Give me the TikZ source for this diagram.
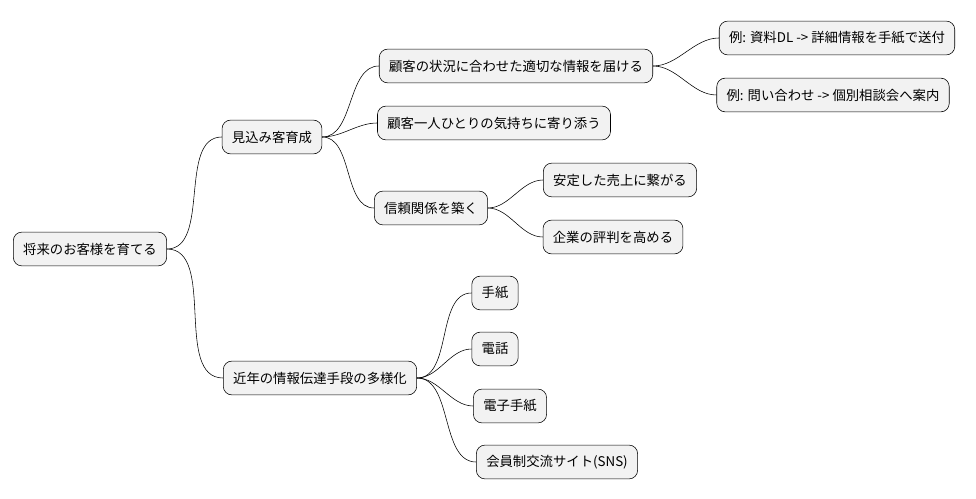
\documentclass[tikz,border=0pt]{standalone}
\usepackage{fontspec}
\setmainfont{Noto Sans CJK JP}
\usetikzlibrary{positioning}

\begin{document}
\begin{tikzpicture}[x=0.025cm, y=-0.025cm,
    topic/.style={draw, rounded corners=6pt, fill=gray!10, minimum height=24pt, inner xsep=7pt, font=\fontsize{9.5}{11}\selectfont},
    link/.style={out=0, in=180, looseness=0.9}
]
    \useasboundingbox (0,0) rectangle (976,499);

    % Root
    \node[topic] (root) at (90,249) {将来のお客様を育てる};

    % First level
    \node[topic] (nurture) at (272,137) {見込み客育成};
    \node[topic] (media) at (320,378) {近年の情報伝達手段の多様化};

    % Nurture branch
    \node[topic] (info) at (516,66) {顧客の状況に合わせた適切な情報を届ける};
    \node[topic] (ex1) at (837,38) {例: 資料DL -> 詳細情報を手紙で送付};
    \node[topic] (ex2) at (833,95) {例: 問い合わせ -> 個別相談会へ案内};
    \node[topic] (care) at (494,123) {顧客一人ひとりの気持ちに寄り添う};
    \node[topic] (trust) at (431,208) {信頼関係を築く};
    \node[topic] (sales) at (620,180) {安定した売上に繋がる};
    \node[topic] (fame) at (613,237) {企業の評判を高める};

    % Media branch
    \node[topic] (letter) at (495,293) {手紙};
    \node[topic] (phone) at (495,349) {電話};
    \node[topic] (mail) at (510,406) {電子手紙};
    \node[topic] (sns) at (557,462) {会員制交流サイト(SNS)};

    % Connections
    \draw (root.east) to[link] (nurture.west);
    \draw (root.east) to[link] (media.west);
    \draw (nurture.east) to[link] (info.west);
    \draw (nurture.east) to[link] (care.west);
    \draw (nurture.east) to[link] (trust.west);
    \draw (info.east) to[link] (ex1.west);
    \draw (info.east) to[link] (ex2.west);
    \draw (trust.east) to[link] (sales.west);
    \draw (trust.east) to[link] (fame.west);
    \draw (media.east) to[link] (letter.west);
    \draw (media.east) to[link] (phone.west);
    \draw (media.east) to[link] (mail.west);
    \draw (media.east) to[link] (sns.west);
\end{tikzpicture}
\end{document}
